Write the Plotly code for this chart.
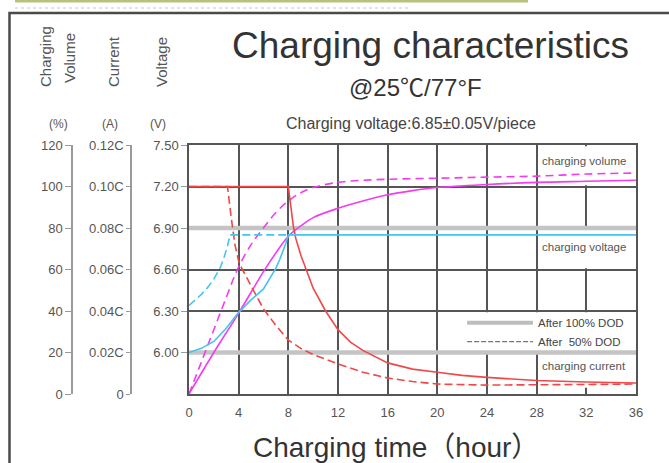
import plotly.graph_objects as go

W, H = 669, 463

# ---------------- data ----------------
vol_100_t = [0, 2, 4, 6, 7, 8, 9, 10, 12, 14, 16, 18, 20, 24, 28, 32, 36]
vol_100_v = [0, 20, 39, 59, 68, 76, 81, 85, 89.5, 93, 96, 98, 99.5, 101, 102, 102.5, 103]

vol_50_t = [0, 1, 2, 3, 3.9, 5, 6, 7, 8, 9, 10, 12, 14, 16, 20, 24, 28, 32, 36]
vol_50_v = [0, 15.5, 31, 46.5, 60, 72, 80, 87.5, 93, 97, 99.5, 102, 103, 103.5, 104, 104.5, 105, 106, 106.5]

volt_100_t = [0, 1, 2, 3, 4, 5, 6, 6.5, 7, 7.3, 7.6, 7.8, 8, 36]
volt_100_v = [6.00, 6.03, 6.08, 6.175, 6.29, 6.38, 6.46, 6.53, 6.61, 6.67, 6.74, 6.79, 6.85, 6.85]

volt_50_t = [0, 0.5, 1, 1.5, 2, 2.5, 2.8, 3.1, 3.3, 8]
volt_50_v = [6.34, 6.38, 6.42, 6.47, 6.53, 6.61, 6.68, 6.77, 6.85, 6.85]

cur_100_t = [0, 8, 8.4, 8.6, 9, 9.75, 10, 11, 12, 13, 14, 16, 18, 20, 22, 24, 28, 32, 36]
cur_100_v = [0.10, 0.10, 0.081, 0.075, 0.067, 0.055, 0.051, 0.040, 0.031, 0.025, 0.021,
             0.015, 0.012, 0.0105, 0.009, 0.008, 0.0065, 0.0058, 0.0053]

cur_50_t = [0, 3.1, 3.4, 3.7, 4, 4.3, 4.75, 5, 6, 7, 8, 9, 10, 12, 14, 16, 18, 20, 24, 28, 32, 36]
cur_50_v = [0.10, 0.10, 0.085, 0.072, 0.064, 0.060, 0.055, 0.052, 0.041, 0.033, 0.026, 0.022,
            0.019, 0.0145, 0.0105, 0.0077, 0.006, 0.0048, 0.0043, 0.0043, 0.0046, 0.0048]

x_ticks = [0, 4, 8, 12, 16, 20, 24, 28, 32, 36]
vol_ticks = [0, 20, 40, 60, 80, 100, 120]
vol_labels = ["0", "20", "40", "60", "80", "100", "120"]
cur_ticks = [0, 0.02, 0.04, 0.06, 0.08, 0.10, 0.12]
cur_labels = ["0", "0.02C", "0.04C", "0.06C", "0.08C", "0.10C", "0.12C"]
volt_ticks = [6.00, 6.30, 6.60, 6.90, 7.20, 7.50]
volt_labels = ["6.00", "6.30", "6.60", "6.90", "7.20", "7.50"]

MAGENTA = "#f23cf0"
CYAN = "#45c4ee"
RED = "#f04848"
GRID = "#555555"
FONT = "Liberation Sans, Arial, Noto Sans CJK SC, sans-serif"


def px(x):
    return x / W


def py(y):
    return 1 - y / H


fig = go.Figure()

# charging volume (%)
fig.add_trace(go.Scatter(x=vol_100_t, y=vol_100_v, yaxis="y", mode="lines", line_shape="spline",
                         line=dict(color=MAGENTA, width=1.6)))
fig.add_trace(go.Scatter(x=vol_50_t, y=vol_50_v, yaxis="y", mode="lines", line_shape="spline",
                         line=dict(color=MAGENTA, width=1.6, dash="8px,5px")))
# charging voltage (V)
fig.add_trace(go.Scatter(x=volt_100_t, y=volt_100_v, yaxis="y3", mode="lines",
                         line=dict(color=CYAN, width=1.6)))
fig.add_trace(go.Scatter(x=volt_50_t, y=volt_50_v, yaxis="y3", mode="lines",
                         line=dict(color=CYAN, width=1.6, dash="8px,4px")))
# charging current (C)
fig.add_trace(go.Scatter(x=cur_100_t, y=cur_100_v, yaxis="y2", mode="lines",
                         line=dict(color=RED, width=1.6)))
fig.add_trace(go.Scatter(x=cur_50_t, y=cur_50_v, yaxis="y2", mode="lines",
                         line=dict(color=RED, width=1.6, dash="8px,4px")))

dom_x = [px(189), px(636)]
dom_y = [py(394), py(145)]

tickfont = dict(family=FONT, size=13, color="#555")

fig.update_layout(
    template="none",
    width=W, height=H, margin=dict(l=0, r=0, t=0, b=0, pad=0, autoexpand=False),
    paper_bgcolor="white", plot_bgcolor="white", showlegend=False,
    font=dict(family=FONT, color="#333"),
    xaxis=dict(domain=dom_x, range=[0, 36], tickvals=x_ticks, ticks="", ticklabelstandoff=6,
               tickfont=tickfont, showgrid=True, gridcolor=GRID, gridwidth=1.5, zeroline=False,
               showline=True, linecolor=GRID, linewidth=1.5, mirror=True, anchor="y3",
               automargin=False),
    yaxis=dict(domain=dom_y, range=[0, 120], tickvals=vol_ticks, ticktext=vol_labels,
               anchor="free", position=px(72), side="left", showline=True, linecolor="#9a9a9a",
               linewidth=1.5, ticks="outside", ticklen=6, tickcolor="#9a9a9a", tickwidth=1.2,
               tickfont=tickfont, showgrid=True, gridcolor=GRID, gridwidth=1.5, zeroline=False,
               automargin=False),
    yaxis2=dict(range=[0, 0.12], tickvals=cur_ticks, ticktext=cur_labels, overlaying="y",
                anchor="free", position=px(131), side="left", showline=True, linecolor="#9a9a9a",
                linewidth=1.5, ticks="outside", ticklen=4, tickcolor="#9a9a9a", tickwidth=1.2,
                tickfont=tickfont, showgrid=False, zeroline=False, automargin=False),
    yaxis3=dict(range=[5.70, 7.50], tickvals=volt_ticks, ticktext=volt_labels, overlaying="y",
                anchor="x", side="left", showline=True, linecolor=GRID, linewidth=1.5, mirror=True,
                ticks="outside", ticklen=6, tickcolor="#9a9a9a", tickwidth=1.2,
                tickfont=tickfont, showgrid=False, zeroline=False, automargin=False),
)

shapes = []
# white covers (hide vertical grid inside the label cells)
for (x0, x1, y0, y1) in [(28.15, 35.85, 100.6, 119.4), (28.15, 35.85, 60.6, 79.4),
                         (20.3, 35.85, 20.6, 39.4), (28.15, 35.85, 3, 19.4)]:
    shapes.append(dict(type="rect", xref="x", yref="y", x0=x0, x1=x1, y0=y0, y1=y1,
                       fillcolor="white", line=dict(width=0), layer="between"))
# light grey thick reference lines
for yv in [80, 20]:
    shapes.append(dict(type="line", xref="x", yref="y", x0=0, x1=36, y0=yv, y1=yv,
                       line=dict(color="#c4c4c4", width=4.5), layer="between"))
# legend samples
shapes.append(dict(type="line", xref="x", yref="y", x0=22.4, x1=27.7, y0=34.3, y1=34.3,
                   line=dict(color="#bdbdbd", width=4)))
shapes.append(dict(type="line", xref="x", yref="y", x0=22.4, x1=27.7, y0=25.2, y1=25.2,
                   line=dict(color="#555", width=1, dash="5px,2px")))
# outer frame and top decoration
shapes.append(dict(type="rect", xref="paper", yref="paper", x0=px(9.5), x1=px(690), y0=py(480), y1=py(13),
                   line=dict(color="#4a4a4a", width=2.5)))
shapes.append(dict(type="line", xref="paper", yref="paper", x0=px(15), x1=px(528), y0=py(1), y1=py(1),
                   line=dict(color="#b9c27a", width=3)))
shapes.append(dict(type="line", xref="paper", yref="paper", x0=px(15), x1=px(410), y0=py(8), y1=py(8),
                   line=dict(color="#c8c8c8", width=1, dash="3px,3px")))
fig.update_layout(shapes=shapes)

ann = []


def text(t, x, y, size, color="#333", xanchor="center", angle=0, bg=None):
    d = dict(text=t, x=px(x), y=py(y), xref="paper", yref="paper", showarrow=False,
             xanchor=xanchor, yanchor="middle", textangle=angle,
             font=dict(family=FONT, size=size, color=color))
    if bg:
        d["bgcolor"] = bg
    ann.append(d)


text("Charging characteristics", 430, 45, 37, "#333")
text("@25℃/77°F", 415, 87, 24, "#333")
text("Charging voltage:6.85±0.05V/piece", 411, 123, 16, "#444")
text("Charging", 46, 57, 15, "#555", angle=-90)
text("Volume", 70, 58, 15, "#555", angle=-90)
text("Current", 113, 62, 15, "#555", angle=-90)
text("Voltage", 161, 62, 15, "#555", angle=-90)
text("(%)", 58, 124, 12, "#555")
text("(A)", 110, 124, 12, "#555")
text("(V)", 158, 124, 12, "#555")
text("Charging time（hour）", 396, 447, 28, "#333")
text("charging volume", 540, 161, 11.5, "#555", xanchor="left")
text("charging voltage", 540, 247, 11.5, "#555", xanchor="left")
text("charging current", 540, 366, 11.5, "#555", xanchor="left")
text("After 100% DOD", 536, 323, 11.5, "#444", xanchor="left")
text("After \u00a050% DOD", 536, 342, 11.5, "#444", xanchor="left")
fig.update_layout(annotations=ann)

fig.write_html("out.html", config={"displayModeBar": False},
               post_script="document.body.style.margin='0';document.body.style.overflow='hidden';")
